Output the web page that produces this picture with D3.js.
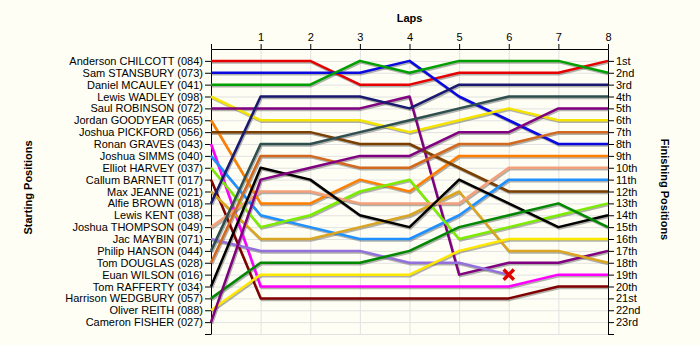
<!DOCTYPE html>
<html>
<head>
<meta charset="utf-8">
<script src="https://cdn.jsdelivr.net/npm/d3@7"></script>
<style>
  body { margin: 0; background: #fefef4; }
  svg { display: block; font-family: "Liberation Sans", Arial, sans-serif; }
  .axis path, .axis line { stroke: #000; }
  .axis text { font-size: 11px; fill: #000; }
</style>
</head>
<body>
<div id="chart"></div>
<script>
// drivers in starting order (grid slot 1..23)
var drivers = ['Anderson CHILCOTT (084)', 'Sam STANSBURY (073)', 'Daniel MCAULEY (041)',
    'Lewis WADLEY (098)', 'Saul ROBINSON (072)', 'Jordan GOODYEAR (065)',
    'Joshua PICKFORD (056)', 'Ronan GRAVES (043)', 'Joshua SIMMS (040)',
    'Elliot HARVEY (037)', 'Callum BARNETT (017)', 'Max JEANNE (021)',
    'Alfie BROWN (018)', 'Lewis KENT (038)', 'Joshua THOMPSON (049)',
    'Jac MAYBIN (071)', 'Philip HANSON (044)', 'Tom DOUGLAS (028)',
    'Euan WILSON (016)', 'Tom RAFFERTY (034)', 'Harrison WEDGBURY (057)',
    'Oliver REITH (088)', 'Cameron FISHER (027)'];

var finishLabels = ['1st', '2nd', '3rd', '4th', '5th', '6th', '7th', '8th', '9th', '10th',
    '11th', '12th', '13th', '14th', '15th', '16th', '17th', '18th', '19th', '20th',
    '21st', '22nd', '23rd'];

var laps = [0, 1, 2, 3, 4, 5, 6, 7, 8];

// position at lap 0..8 (start = grid slot), empty = no line
var positions = [
    [1, 1, 1, 3, 3, 2, 2, 2, 1],
    [2, 2, 2, 2, 1, 4, 6, 8, 8],
    [3, 3, 3, 1, 2, 1, 1, 1, 2],
    [4, 6, 6, 6, 7, 6, 5, 6, 6],
    [5, 5, 5, 5, 4, 19, 18, 18, 17],
    [6, 13, 13, 11, 12, 9, 9, 9, 9],
    [7, 7, 7, 8, 8, 10, 12, 12, 12],
    [8, 20, 20, 20, 20, 20, 20, 19, 19],
    [9, 14, 15, 16, 16, 14, 11, 11, 11],
    [10, 15, 14, 12, 11, 16, 15, 14, 13],
    [11, 21, 21, 21, 21, 21, 21, 20, 20],
    [12, 16, 16, 15, 14, 12, 17, 17, 18],
    [13, 4, 4, 4, 5, 3, 3, 3, 3],
    [],
    [15, 12, 12, 13, 13, 13, 10, 10, 10],
    [16, 17, 17, 17, 18, 18, 19],
    [17, 8, 8, 7, 6, 5, 4, 4, 4],
    [18, 9, 9, 10, 10, 8, 8, 7, 7],
    [],
    [20, 10, 11, 14, 15, 11, 13, 15, 14],
    [21, 18, 18, 18, 17, 15, 14, 13, 15],
    [22, 19, 19, 19, 19, 17, 16, 16, 16],
    [23, 11, 10, 9, 9, 7, 7, 5, 5]
];

// retirements: driver index -> lap where the X goes
var retired = [{ driver: 15, lap: 6 }];

var lineColors = ['#e60000', '#0a0ae0', '#00a000', '#f5e400', '#800080', '#ff7f00',
    '#7b3f00', '#ff00ff', '#1e90ff', '#7cec00', '#800000', '#daa520', '#191970',
    '#888', '#f4a07a', '#9370db', '#2f4f4f', '#d2691e', '#888', '#000000',
    '#008800', '#ffe800', '#800080'];

var width = 700, height = 345;
var margin = { top: 49, right: 92, bottom: 11, left: 211 };

var svg = d3.select('#chart').append('svg')
    .attr('width', width)
    .attr('height', height);

var x = d3.scaleLinear().domain([0, 8]).range([margin.left, width - margin.right]);
var y = d3.scaleLinear().domain([0, 24]).range([margin.top, height - margin.bottom]);

// grid
var grid = svg.append('g').attr('class', 'grid');
grid.selectAll('line.h')
    .data(d3.range(1, 25))
    .enter().append('line')
    .attr('x1', x(0)).attr('x2', x(8))
    .attr('y1', function(d) { return y(d) + 0.5; })
    .attr('y2', function(d) { return y(d) + 0.5; })
    .attr('stroke', '#e2e2e2');
grid.selectAll('line.v')
    .data(d3.range(1, 8))
    .enter().append('line')
    .attr('y1', y(0)).attr('y2', y(24))
    .attr('x1', function(d) { return x(d) + 0.5; })
    .attr('x2', function(d) { return x(d) + 0.5; })
    .attr('stroke', '#e2e2e2');

// axes
svg.append('g').attr('class', 'axis')
    .attr('transform', 'translate(0,' + y(0) + ')')
    .call(d3.axisTop(x).tickValues(laps).tickSize(5).tickSizeOuter(0)
        .tickFormat(function(d) { return d === 0 ? '' : d; }));

svg.append('g').attr('class', 'axis')
    .attr('transform', 'translate(' + x(0) + ',0)')
    .call(d3.axisLeft(y).tickValues(d3.range(1, 25)).tickSize(6).tickSizeOuter(0).tickPadding(2)
        .tickFormat(function(d) { return drivers[d - 1] || ''; }));

svg.append('g').attr('class', 'axis')
    .attr('transform', 'translate(' + x(8) + ',0)')
    .call(d3.axisRight(y).tickValues(d3.range(1, 25)).tickSize(6).tickSizeOuter(0).tickPadding(2)
        .tickFormat(function(d) { return finishLabels[d - 1] || ''; }));

// lines
var line = d3.line()
    .x(function(d, i) { return x(laps[i]); })
    .y(function(d) { return y(d); });

var series = positions.map(function(p, i) { return { idx: i, pos: p }; })
    .filter(function(s) { return s.pos.length > 1; });

var plot = svg.append('g');
plot.selectAll('path.shadow')
    .data(series)
    .enter().append('path')
    .attr('d', function(s) { return line(s.pos); })
    .attr('transform', 'translate(1,1.5)')
    .attr('fill', 'none')
    .attr('stroke', '#555')
    .attr('stroke-opacity', 0.45)
    .attr('stroke-width', 2.5)
    .attr('stroke-linejoin', 'round');
plot.selectAll('path.series')
    .data(series)
    .enter().append('path')
    .attr('d', function(s) { return line(s.pos); })
    .attr('fill', 'none')
    .attr('stroke', function(s) { return lineColors[s.idx]; })
    .attr('stroke-width', 2.5)
    .attr('stroke-linejoin', 'round');

// retirement markers
var cross = d3.symbol().type(d3.symbolX).size(70);
svg.selectAll('path.ret')
    .data(retired)
    .enter().append('path')
    .attr('d', cross)
    .attr('transform', function(r) {
        var p = positions[r.driver];
        return 'translate(' + x(r.lap) + ',' + y(p[r.lap]) + ')';
    })
    .attr('fill', '#e00000')
    .attr('stroke', '#e00000')
    .attr('stroke-width', 3.5);

// titles
svg.append('text')
    .attr('x', (x(0) + x(8)) / 2).attr('y', 22)
    .attr('text-anchor', 'middle')
    .style('font-weight', 'bold').style('font-size', '11px')
    .text('Laps');
svg.append('text')
    .attr('transform', 'translate(32,' + (y(12) - 4) + ') rotate(-90)')
    .attr('text-anchor', 'middle')
    .style('font-weight', 'bold').style('font-size', '11px')
    .text('Starting Positions');
svg.append('text')
    .attr('transform', 'translate(661,' + (y(12) - 2) + ') rotate(90)')
    .attr('text-anchor', 'middle')
    .style('font-weight', 'bold').style('font-size', '11px')
    .text('Finishing Positions');
</script>
</body>
</html>
